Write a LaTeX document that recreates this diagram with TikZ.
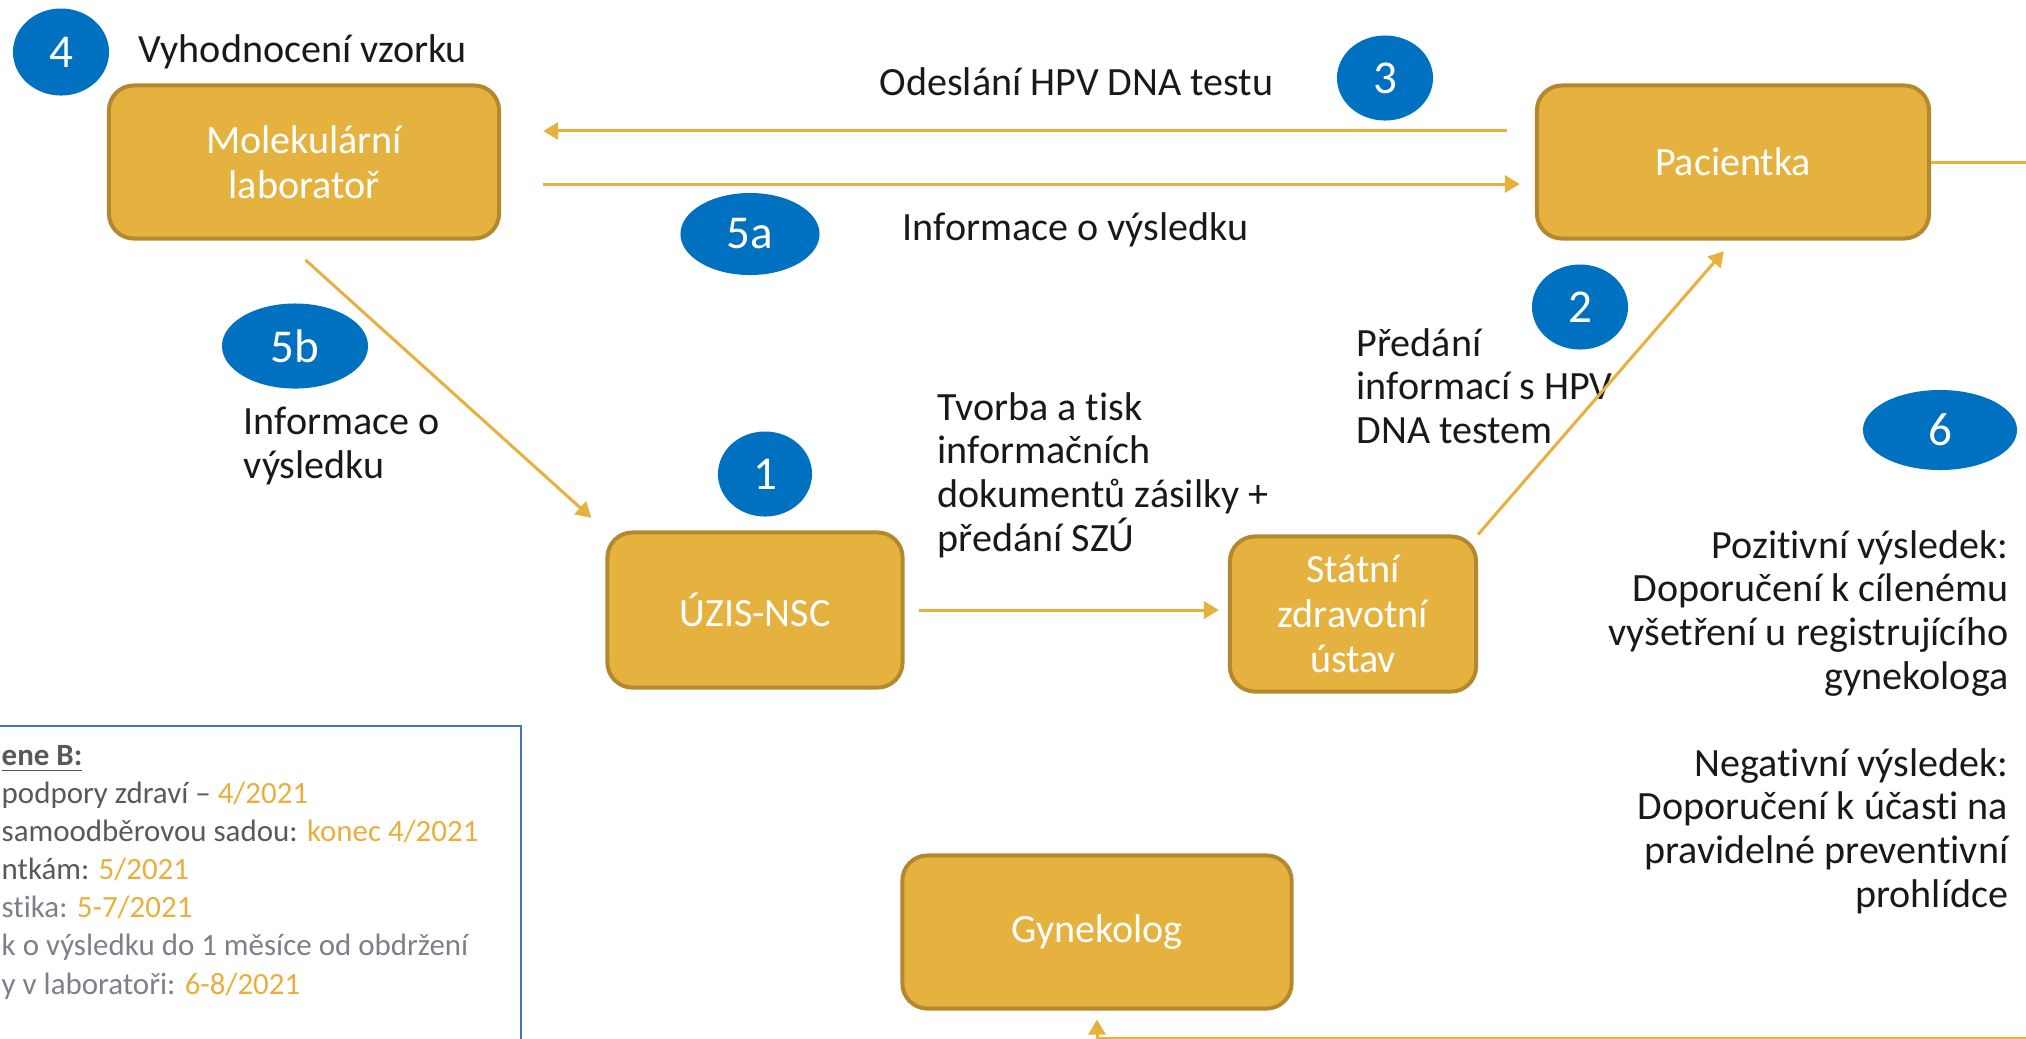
\documentclass[tikz,border=0pt]{standalone}
\usepackage{fontspec}
\setmainfont{Carlito}[Ligatures=NoCommon]
\usetikzlibrary{shapes.geometric,arrows.meta}
\definecolor{boxfill}{HTML}{E6B23F}
\definecolor{boxline}{HTML}{B3882F}
\definecolor{flow}{HTML}{E8B03C}
\definecolor{stepblue}{HTML}{0070C0}
\definecolor{legendline}{HTML}{4472C4}
\definecolor{legtext}{HTML}{595959}
\definecolor{legsoft}{HTML}{7F7F8C}
\definecolor{legdate}{HTML}{E9AF3C}
\newcommand\notefont{\fontsize{11.4pt}{12.4pt}\selectfont}
\newcommand\boxfont{\fontsize{11.4pt}{12.7pt}\selectfont}
\newcommand\numfont{\fontsize{13.4pt}{14pt}\selectfont}
\newcommand\legendfont{\fontsize{8.8pt}{10.85pt}\selectfont}
\tikzset{
  box/.style={draw=boxline,line width=0.04cm,fill=boxfill,rounded corners=0.25cm,text=white,align=center,font=\boxfont,inner sep=0pt},
  num/.style={ellipse,fill=stepblue,text=white,inner sep=0pt,font=\numfont},
  link/.style={draw=flow,line width=0.03cm,-{Triangle[length=0.15cm,width=0.17cm]}},
  note/.style={anchor=west,align=left,inner sep=0pt,font=\notefont,text=black!90}
}
\begin{document}
\begin{tikzpicture}[x=0.01cm,y=-0.01cm]
\useasboundingbox (0,0) rectangle (2026,1038);
\node[box,minimum width=3.9cm,minimum height=1.53cm] (mol) at (304,162) {Molekulární\\laboratoř};
\node[box,minimum width=3.92cm,minimum height=1.53cm] (pac) at (1733,162) {Pacientka};
\node[box,minimum width=2.95cm,minimum height=1.55cm] (uzis) at (755,610) {ÚZIS-NSC};
\node[box,minimum width=2.46cm,minimum height=1.55cm] (szu) at (1353,614) {Státní\\zdravotní\\ústav};
\node[box,minimum width=3.89cm,minimum height=1.53cm] (gyn) at (1097,932) {Gynekolog};
\node[num,minimum width=0.96cm,minimum height=0.87cm] (n4) at (61,52) {4};
\node[num,minimum width=0.96cm,minimum height=0.85cm] (n3) at (1385,78) {3};
\node[num,minimum width=1.39cm,minimum height=0.82cm] (n5a) at (750,234) {5a};
\node[num,minimum width=1.46cm,minimum height=0.85cm] (n5b) at (295,346) {5b};
\node[num,minimum width=0.94cm,minimum height=0.85cm] (n1) at (765,474) {1};
\node[num,minimum width=0.96cm,minimum height=0.85cm] (n2) at (1580,307) {2};
\node[num,minimum width=1.54cm,minimum height=0.8cm] (n6) at (1940,430) {6};
\node[note] (eval) at (138,52) {Vyhodnocení vzorku};
\node[note] (send) at (879,82) {Odeslání HPV DNA testu};
\node[note] (infoa) at (902,230) {Informace o výsledku};
\node[note] (infob) at (243,446) {Informace o\\výsledku};
\node[note] (print) at (937,475) {Tvorba a tisk\\informačních\\dokumentů zásilky +\\předání SZÚ};
\node[note] (hand) at (1356,386) {Předání\\informací s HPV\\DNA testem};
\node[note,anchor=east,align=right] (result) at (2009,722) {Pozitivní výsledek:\\Doporučení k cílenému\\vyšetření u registrujícího\\gynekologa\\[0.435cm]Negativní výsledek:\\Doporučení k účasti na\\pravidelné preventivní\\prohlídce};
\draw[link,shorten <=0.28cm,shorten >=0.42cm] ([yshift=0.31cm]pac.west) -- ([yshift=0.31cm]mol.east);
\draw[link,shorten <=0.42cm,shorten >=0.15cm] ([yshift=-0.22cm]mol.east) -- ([yshift=-0.22cm]pac.west);
\draw[link,shorten <=0.29cm,shorten >=0.19cm] ([xshift=-0.2cm]mol.south) -- (uzis.north west);
\draw[link,shorten <=0.14cm,shorten >=0.09cm] (uzis.east) -- (uzis.east -| szu.west);
\draw[link,shorten >=0.14cm] (szu.north east) -- (pac.south);
\draw[link,shorten >=0.09cm] (pac.east) -| (2080,1038.5) -| (gyn.south);
\draw[legendline,line width=0.02cm] (-10,726) rectangle (521,1050);
\node[anchor=west,align=left,inner sep=0pt,font=\legendfont,text=legtext] (legend) at (1,872) {\underline{\textbf{ene B:}}\\podpory zdraví – \textcolor{legdate}{4/2021}\\samoodběrovou sadou: \textcolor{legdate}{konec 4/2021}\\ntkám: \textcolor{legdate}{5/2021}\\\textcolor{legsoft}{stika:} \textcolor{legdate}{5-7/2021}\\\textcolor{legsoft}{k o výsledku do 1 měsíce od obdržení}\\\textcolor{legsoft}{y v laboratoři:} \textcolor{legdate}{6-8/2021}};
\end{tikzpicture}
\end{document}
